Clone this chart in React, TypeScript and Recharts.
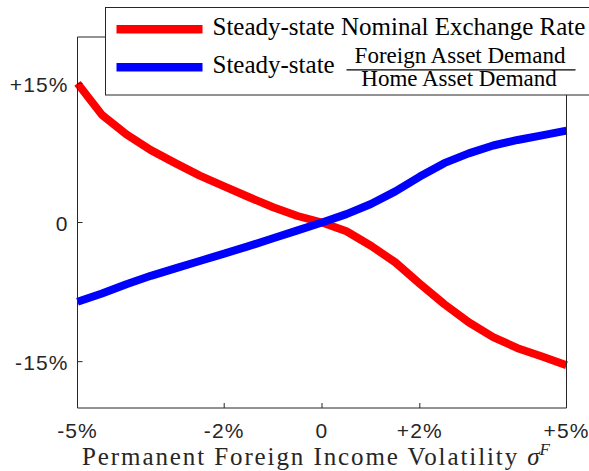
import { LineChart, Line, XAxis, YAxis, Legend } from 'recharts';

// sigma^F grid (in %), one point every 0.5
const volatility = [-5, -4.5, -4, -3.5, -3, -2.5, -2, -1.5, -1, -0.5, 0, 0.5, 1, 1.5, 2, 2.5, 3, 3.5, 4, 4.5, 5];
const exchangeRate = [15.0, 11.6, 9.5, 7.8, 6.4, 5.05, 3.9, 2.75, 1.65, 0.7, 0, -0.95, -2.5, -4.3, -6.6, -8.8, -10.75, -12.35, -13.55, -14.45, -15.4];
const assetDemandRatio = [-8.55, -7.65, -6.65, -5.75, -4.95, -4.15, -3.35, -2.55, -1.7, -0.85, 0, 0.9, 2.0, 3.35, 4.95, 6.4, 7.45, 8.3, 8.9, 9.4, 9.9];

const xTicks = [-5, -2, 0, 2, 5];
const yTicks = [-15, 0, 15];
const seriesNames = ['Steady-state Nominal Exchange Rate', 'Steady-state Foreign Asset Demand / Home Asset Demand'];
const fractionLabel = ['Foreign Asset Demand', 'Home Asset Demand'];
const xTitle = 'Permanent Foreign Income Volatility';

const data = volatility.map((x, i) => ({ x, rate: exchangeRate[i], ratio: assetDemandRatio[i] }));

const AXIS = '#262626';
const SANS = '"Liberation Sans", Arial, Helvetica, sans-serif';
const SERIF = '"Liberation Serif", "Times New Roman", serif';

const pct = (v: number) => (v === 0 ? '0' : `${v > 0 ? '+' : ''}${v}%`);

function BottomTick({ x, y, payload }: any) {
  return (
    <text x={x} y={y} dy={14.5} textAnchor="middle" fill={AXIS} fontSize={21} fontFamily={SANS} letterSpacing={1.1}>
      {pct(payload.value)}
    </text>
  );
}

function LeftTick({ x, y, payload }: any) {
  return (
    <text x={x} y={y} dy={8.5} textAnchor="end" fill={AXIS} fontSize={21} fontFamily={SANS} letterSpacing={1.1}>
      {pct(payload.value)}
    </text>
  );
}

function XTitle({ viewBox }: any) {
  const cx = viewBox.x + viewBox.width / 2 - 6;
  return (
    <text x={cx} y={viewBox.y + 57} textAnchor="middle" fill={AXIS} fontSize={25} fontFamily={SERIF}>
      <tspan letterSpacing={1.9}>{xTitle} </tspan>
      <tspan fontStyle="italic">σ</tspan>
      <tspan fontStyle="italic" fontSize={17} dy={-10}>F</tspan>
    </text>
  );
}

function LegendBox({ payload }: any) {
  const colorOf = (key: string, fallback: string) =>
    (payload ?? []).find((p: any) => p.dataKey === key)?.color ?? fallback;
  const red = colorOf('rate', '#ff0000');
  const blue = colorOf('ratio', '#0000ff');
  return (
    <svg width={500} height={89} style={{ display: 'block' }}>
      <rect x={0.5} y={0.5} width={499} height={87.5} fill="#fff" stroke={AXIS} strokeWidth={1} />
      <line x1={11.5} x2={97.5} y1={22.2} y2={22.2} stroke={red} strokeWidth={8.5} />
      <line x1={11.5} x2={97.5} y1={60.2} y2={60.2} stroke={blue} strokeWidth={8.5} />
      <text x={107.5} y={27.8} fontSize={25} fontFamily={SERIF} fill="#000">{seriesNames[0]}</text>
      <text x={107.5} y={66.2} fontSize={25} fontFamily={SERIF} fill="#000">Steady-state</text>
      <text x={355} y={56.3} textAnchor="middle" fontSize={23} fontFamily={SERIF} fill="#000">{fractionLabel[0]}</text>
      <line x1={241.5} x2={470.5} y1={62.8} y2={62.8} stroke="#000" strokeWidth={1.2} />
      <text x={354} y={79} textAnchor="middle" fontSize={23} fontFamily={SERIF} fill="#000">{fractionLabel[1]}</text>
    </svg>
  );
}

export default function App() {
  return (
    <div style={{ position: 'fixed', left: 0, top: 0, width: 589, height: 471, overflow: 'hidden', background: '#fff' }}>
      <LineChart width={589} height={471} data={data} margin={{ top: 36, right: 21.5, bottom: 62, left: 76.5 }}>
        <XAxis
          dataKey="x"
          type="number"
          domain={[-5, 5]}
          ticks={xTicks}
          interval={0}
          height={1}
          stroke={AXIS}
          tickSize={-5}
          tickMargin={20}
          tick={<BottomTick />}
          label={<XTitle />}
        />
        <XAxis xAxisId="top" orientation="top" type="number" domain={[-5, 5]} ticks={xTicks} interval={0} height={1} stroke={AXIS} tickSize={-5} tick={false} />
        <YAxis type="number" domain={[-20, 20]} ticks={yTicks} interval={0} width={1} stroke={AXIS} tickSize={-5} tickMargin={14} tick={<LeftTick />} />
        <YAxis yAxisId="right" orientation="right" type="number" domain={[-20, 20]} ticks={yTicks} interval={0} width={1} stroke={AXIS} tickSize={-5} tick={false} />
        <Line
          type="linear"
          dataKey="rate"
          name={seriesNames[0]}
          stroke="#ff0000"
          strokeWidth={8}
          strokeLinejoin="round"
          dot={false}
          activeDot={false}
          isAnimationActive={false}
        />
        <Line
          type="linear"
          dataKey="ratio"
          name={seriesNames[1]}
          stroke="#0000ff"
          strokeWidth={8}
          strokeLinejoin="round"
          dot={false}
          activeDot={false}
          isAnimationActive={false}
        />
        <Legend
          layout="vertical"
          align="center"
          verticalAlign="middle"
          width={500}
          height={89}
          wrapperStyle={{ left: 104.5, top: 6.5, width: 500, height: 89, lineHeight: 0 }}
          content={<LegendBox />}
        />
      </LineChart>
    </div>
  );
}
